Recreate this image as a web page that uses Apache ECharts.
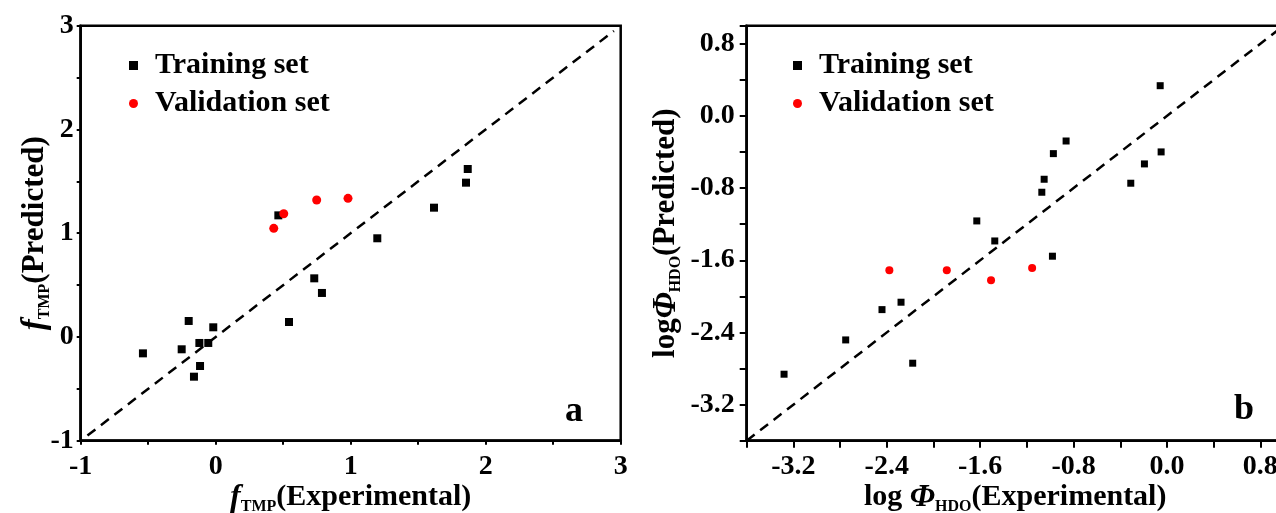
<!DOCTYPE html>
<html>
<head>
<meta charset="utf-8">
<script src="https://cdn.jsdelivr.net/npm/echarts@6/dist/echarts.min.js"></script>
<style>
  html, body { margin: 0; padding: 0; background: #fff; }
  #main { width: 1276px; height: 513px; }
</style>
</head>
<body>
<div id="main"></div>
<script>
// panel a: f_TMP, experimental vs predicted
const trainA = [
  [1.867, 1.619], [1.854, 1.487], [1.617, 1.246], [1.197, 0.951],
  [0.730, 0.565], [0.787, 0.424], [0.543, 0.144], [0.464, 1.172],
  [-0.200, 0.154], [-0.018, 0.093], [-0.121, -0.058], [-0.055, -0.058],
  [-0.252, -0.119], [-0.539, -0.158], [-0.116, -0.280], [-0.161, -0.383],
];
const validA = [[0.430, 1.047], [0.504, 1.188], [0.748, 1.320], [0.980, 1.336]];
const diagA = [[-0.95, -0.95], [2.95, 2.95]];

// panel b: log Phi_HDO, experimental vs predicted
const trainB = [
  [-0.058, 0.335], [-0.050, -0.399], [-0.193, -0.532], [-0.310, -0.746],
  [-0.864, -0.278], [-0.973, -0.418], [-1.052, -0.702], [-1.072, -0.846],
  [-0.981, -1.555], [-1.629, -1.164], [-1.475, -1.386], [-2.278, -2.065],
  [-2.441, -2.147], [-2.752, -2.483], [-2.178, -2.741], [-3.280, -2.863],
];
const validB = [[-2.378, -1.711], [-1.886, -1.711], [-1.507, -1.821], [-1.155, -1.685]];
const diagB = [[-3.6, -3.6], [1.0, 1.0]];

const legendNames = ['Training set', 'Validation set'];

const font = 'Liberation Serif';
const myChart = echarts.init(document.getElementById('main'));

const makeRich = (size) => ({
  it: { fontStyle: 'italic', fontWeight: 'bold', fontSize: size + 2, fontFamily: font, color: '#000', lineHeight: size + 4 },
  n: { fontWeight: 'bold', fontSize: size, fontFamily: font, color: '#000', lineHeight: size + 4 },
  sub: { fontWeight: 'bold', fontSize: Math.round(size * 0.52), fontFamily: font, color: '#000', lineHeight: 16, verticalAlign: 'bottom' },
});

const labelStyle = { fontSize: 28, fontWeight: 'bold', fontFamily: font, color: '#000' };

// labels on integers only (panel a), or every 0.8 from -3.2 (panel b)
const intLabel = (v) => (Number.isInteger(Math.round(v * 100) / 100) ? String(Math.round(v)) : '');
const bLabel = (v) => {
  const k = Math.round(v * 10);
  if ((k + 32) % 8 !== 0) return '';
  return k === 0 ? '0.0' : (k / 10).toFixed(1);
};

const axisBase = (tickLen, nameSize) => ({
  type: 'value',
  axisLine: { show: true, onZero: false, lineStyle: { color: '#000', width: 2.5 } },
  axisTick: { show: true, inside: false, length: tickLen, lineStyle: { color: '#000', width: 2 } },
  splitLine: { show: false },
  nameLocation: 'middle',
  nameMoveOverlap: false,
  nameTextStyle: { rich: makeRich(nameSize) },
});

const legendBase = {
  orient: 'vertical',
  data: legendNames,
  itemWidth: 9,
  itemHeight: 9,
  itemGap: 7,
  selectedMode: false,
  itemStyle: { opacity: 1 },
  textStyle: { fontSize: 30, fontWeight: 'bold', fontFamily: font, color: '#000', lineHeight: 31, padding: [0, 0, 0, 12] },
};

const gridBase = {
  show: true,
  borderColor: '#000',
  borderWidth: 2.5,
  backgroundColor: 'transparent',
  containLabel: false,
  outerBoundsMode: 'none',
};

const option = {
  animation: false,
  backgroundColor: '#fff',
  textStyle: { fontFamily: font },
  grid: [
    Object.assign({}, gridBase, { left: 80.7, top: 25.7, width: 540, height: 415 }),
    Object.assign({}, gridBase, { left: 746.7, top: 25.7, width: 537, height: 415 }),
  ],
  legend: [
    Object.assign({}, legendBase, { left: 124, top: 45 }),
    Object.assign({}, legendBase, { left: 788, top: 45 }),
  ],
  xAxis: [
    Object.assign(axisBase(4, 30), {
      gridIndex: 0, min: -1, max: 3, interval: 0.5,
      axisLabel: Object.assign({ margin: 12, formatter: intLabel }, labelStyle),
      name: '{it|f}{sub|TMP}{n|(Experimental)}',
      nameGap: 40,
    }),
    Object.assign(axisBase(7, 30), {
      gridIndex: 1, min: -3.6, max: 1.0, interval: 0.4,
      axisLabel: Object.assign({ margin: 12, formatter: bLabel }, labelStyle),
      name: '{n|log }{it|Φ}{sub|HDO}{n|(Experimental)}',
      nameGap: 40,
    }),
  ],
  yAxis: [
    Object.assign(axisBase(4, 31), {
      gridIndex: 0, min: -1, max: 3, interval: 0.5,
      axisLabel: Object.assign({ margin: 7, formatter: intLabel }, labelStyle),
      name: '{it|f}{sub|TMP}{n|(Predicted)}',
      nameRotate: 90,
      nameGap: 28,
    }),
    Object.assign(axisBase(7, 31), {
      gridIndex: 1, min: -3.6, max: 1.0, interval: 0.4,
      axisLabel: Object.assign({ margin: 12, formatter: bLabel }, labelStyle),
      name: '{n|log}{it|Φ}{sub|HDO}{n|(Predicted)}',
      nameRotate: 90,
      nameGap: 63,
    }),
  ],
  series: [
    {
      name: 'diagA', type: 'line', xAxisIndex: 0, yAxisIndex: 0,
      data: diagA, symbol: 'none', silent: true,
      lineStyle: { color: '#000', width: 2.5, type: [10, 7] },
    },
    {
      name: 'Training set', type: 'scatter', xAxisIndex: 0, yAxisIndex: 0,
      data: trainA, symbol: 'rect', symbolSize: 8, itemStyle: { color: '#000', opacity: 1 },
    },
    {
      name: 'Validation set', type: 'scatter', xAxisIndex: 0, yAxisIndex: 0,
      data: validA, symbol: 'circle', symbolSize: 9, itemStyle: { color: '#ff0000', opacity: 1 },
    },
    {
      name: 'diagB', type: 'line', xAxisIndex: 1, yAxisIndex: 1,
      data: diagB, symbol: 'none', silent: true,
      lineStyle: { color: '#000', width: 2.5, type: [10, 7] },
    },
    {
      name: 'Training set', type: 'scatter', xAxisIndex: 1, yAxisIndex: 1,
      data: trainB, symbol: 'rect', symbolSize: 7, itemStyle: { color: '#000', opacity: 1 },
    },
    {
      name: 'Validation set', type: 'scatter', xAxisIndex: 1, yAxisIndex: 1,
      data: validB, symbol: 'circle', symbolSize: 8, itemStyle: { color: '#ff0000', opacity: 1 },
    },
  ],
  graphic: [
    { type: 'text', left: 565, top: 394, style: { text: 'a', fontSize: 36, fontWeight: 'bold', fontFamily: font, fill: '#000' } },
    { type: 'text', left: 1234, top: 392, style: { text: 'b', fontSize: 36, fontWeight: 'bold', fontFamily: font, fill: '#000' } },
  ],
};

myChart.setOption(option);
</script>
</body>
</html>
